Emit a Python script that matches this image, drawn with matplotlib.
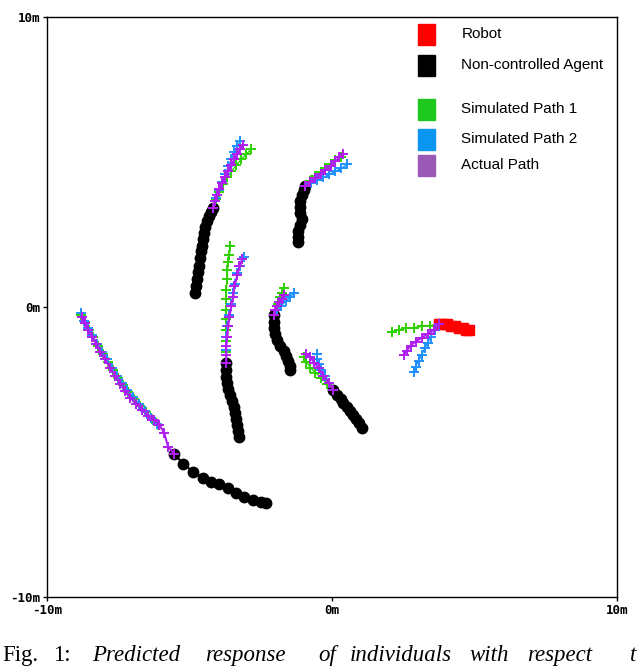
import matplotlib
matplotlib.use("Agg")
import matplotlib.pyplot as plt
from matplotlib.patches import Rectangle

# tracks of the non-controlled agents (metres), oldest point first
agent_a_x = [-4.80, -4.76, -4.73, -4.69, -4.66, -4.62, -4.59, -4.55, -4.52, -4.48, -4.45, -4.38, -4.31, -4.24, -4.17]
agent_a_y = [0.50, 0.71, 0.95, 1.19, 1.43, 1.68, 1.92, 2.12, 2.33, 2.54, 2.75, 2.95, 3.13, 3.26, 3.40]
agent_b_x = [-1.18, -1.21, -1.18, -1.11, -1.07, -1.11, -1.14, -1.11, -1.07, -1.00, -0.93]
agent_b_y = [2.24, 2.40, 2.61, 2.82, 3.02, 3.23, 3.44, 3.64, 3.85, 4.02, 4.16]
agent_c_x = [-3.25, -3.29, -3.32, -3.36, -3.39, -3.43, -3.50, -3.57, -3.64, -3.67, -3.71, -3.71, -3.71]
agent_c_y = [-4.47, -4.27, -4.06, -3.85, -3.64, -3.44, -3.23, -3.02, -2.82, -2.61, -2.40, -2.16, -1.92]
agent_d_x = [-1.46, -1.49, -1.53, -1.60, -1.70, -1.81, -1.92, -1.99, -2.02, -2.02, -2.02]
agent_d_y = [-2.16, -2.02, -1.85, -1.68, -1.50, -1.33, -1.13, -0.92, -0.71, -0.50, -0.29]
agent_e_x = [1.04, 0.93, 0.83, 0.72, 0.62, 0.51, 0.40, 0.30, 0.19, 0.05]
agent_e_y = [-4.16, -3.99, -3.85, -3.71, -3.58, -3.44, -3.30, -3.16, -3.02, -2.85]
agent_f_x = [-2.30, -2.48, -2.76, -3.08, -3.36, -3.64, -3.95, -4.24, -4.52, -4.87, -5.22, -5.54]
agent_f_y = [-6.75, -6.72, -6.65, -6.55, -6.40, -6.23, -6.10, -6.03, -5.89, -5.68, -5.41, -5.06]

robot_x = [4.80, 4.69, 4.59, 4.45, 4.31, 4.17, 4.02, 3.88, 3.74]
robot_y = [-0.81, -0.78, -0.74, -0.71, -0.67, -0.64, -0.60, -0.60, -0.57]

# simulated path 1 (green)
sim1_a_x = [-4.17, -4.06, -3.95, -3.81, -3.67, -3.53, -3.36, -3.18, -3.01, -2.83]
sim1_a_y = [3.40, 3.71, 3.96, 4.23, 4.47, 4.68, 4.89, 5.09, 5.27, 5.44]
sim1_b_x = [-0.93, -0.76, -0.58, -0.40, -0.23, -0.05, 0.12, 0.30]
sim1_b_y = [4.16, 4.34, 4.51, 4.65, 4.78, 4.92, 5.06, 5.16]
sim1_c_x = [-3.71, -3.71, -3.71, -3.71, -3.71, -3.71, -3.71, -3.71, -3.67, -3.67, -3.64, -3.60, -3.57]
sim1_c_y = [-1.92, -1.54, -1.16, -0.78, -0.43, -0.09, 0.26, 0.60, 0.95, 1.26, 1.54, 1.81, 2.12]
sim1_d_x = [-2.02, -1.95, -1.88, -1.81, -1.74, -1.70]
sim1_d_y = [-0.29, -0.09, 0.12, 0.33, 0.50, 0.67]
sim1_e_x = [0.05, -0.16, -0.37, -0.58, -0.76, -0.90, -0.97]
sim1_e_y = [-2.85, -2.64, -2.44, -2.26, -2.09, -1.88, -1.74]
sim1_f_x = [-6.10, -6.31, -6.52, -6.73, -6.94, -7.15, -7.33, -7.50, -7.68, -7.86, -8.03, -8.21, -8.38, -8.52, -8.66, -8.81]
sim1_f_y = [-4.06, -3.85, -3.61, -3.40, -3.16, -2.92, -2.68, -2.44, -2.16, -1.88, -1.61, -1.33, -1.05, -0.78, -0.50, -0.26]
sim1_r_x = [3.74, 3.43, 3.15, 2.86, 2.58, 2.34, 2.09]
sim1_r_y = [-0.60, -0.64, -0.67, -0.71, -0.74, -0.78, -0.85]

# simulated path 2 (blue)
sim2_a_x = [-4.17, -4.06, -3.95, -3.85, -3.74, -3.64, -3.53, -3.43, -3.32, -3.22]
sim2_a_y = [3.40, 3.75, 4.02, 4.30, 4.58, 4.85, 5.09, 5.34, 5.54, 5.72]
sim2_b_x = [-0.93, -0.72, -0.51, -0.30, -0.09, 0.12, 0.33, 0.54]
sim2_b_y = [4.16, 4.27, 4.37, 4.47, 4.58, 4.68, 4.78, 4.92]
sim2_c_x = [-3.71, -3.71, -3.71, -3.67, -3.60, -3.53, -3.46, -3.39, -3.32, -3.22, -3.08]
sim2_c_y = [-1.92, -1.47, -1.02, -0.64, -0.29, 0.09, 0.47, 0.81, 1.16, 1.43, 1.71]
sim2_d_x = [-2.02, -1.92, -1.78, -1.63, -1.49, -1.35]
sim2_d_y = [-0.29, -0.12, 0.05, 0.19, 0.33, 0.47]
sim2_e_x = [0.05, -0.09, -0.23, -0.37, -0.44, -0.51, -0.54]
sim2_e_y = [-2.85, -2.61, -2.37, -2.16, -1.95, -1.78, -1.61]
sim2_f_x = [-6.13, -6.34, -6.55, -6.77, -6.98, -7.19, -7.36, -7.54, -7.71, -7.89, -8.07, -8.24, -8.42, -8.56, -8.70, -8.81]
sim2_f_y = [-4.02, -3.82, -3.58, -3.33, -3.09, -2.85, -2.61, -2.37, -2.09, -1.81, -1.54, -1.26, -0.98, -0.71, -0.47, -0.22]
sim2_r_x = [3.74, 3.60, 3.46, 3.36, 3.25, 3.15, 3.04, 2.93, 2.86]
sim2_r_y = [-0.60, -0.81, -1.02, -1.23, -1.43, -1.64, -1.85, -2.06, -2.23]

# actual path (purple)
act_a_x = [-4.17, -4.10, -4.02, -3.95, -3.85, -3.74, -3.64, -3.53, -3.43, -3.32, -3.22, -3.11]
act_a_y = [3.40, 3.64, 3.85, 4.06, 4.27, 4.47, 4.68, 4.89, 5.09, 5.27, 5.44, 5.58]
act_b_x = [-0.93, -0.76, -0.58, -0.40, -0.23, -0.05, 0.12, 0.26, 0.40]
act_b_y = [4.16, 4.30, 4.44, 4.58, 4.72, 4.85, 5.03, 5.16, 5.27]
act_c_x = [-3.71, -3.71, -3.71, -3.67, -3.64, -3.60, -3.53, -3.46, -3.43, -3.32, -3.25, -3.15]
act_c_y = [-1.92, -1.64, -1.33, -1.02, -0.67, -0.33, 0.02, 0.36, 0.71, 1.09, 1.40, 1.64]
act_d_x = [-2.02, -1.99, -1.92, -1.85, -1.74, -1.67]
act_d_y = [-0.29, -0.12, 0.02, 0.16, 0.29, 0.40]
act_e_x = [0.05, -0.12, -0.30, -0.47, -0.62, -0.76, -0.90]
act_e_y = [-2.85, -2.61, -2.37, -2.12, -1.92, -1.74, -1.61]
act_f_x = [-5.54, -5.75, -5.89, -6.06, -6.24, -6.45, -6.66, -6.87, -7.08, -7.26, -7.43, -7.61, -7.79, -7.96, -8.14, -8.28, -8.42, -8.56, -8.66, -8.77]
act_f_y = [-5.06, -4.82, -4.34, -4.06, -3.89, -3.75, -3.54, -3.33, -3.13, -2.88, -2.64, -2.37, -2.09, -1.81, -1.54, -1.26, -1.02, -0.78, -0.54, -0.33]
act_r_x = [3.74, 3.57, 3.36, 3.15, 2.93, 2.76, 2.62, 2.51]
act_r_y = [-0.60, -0.78, -0.92, -1.06, -1.19, -1.33, -1.50, -1.64]

legend_labels = ["Robot", "Non-controlled Agent", "Simulated Path 1", "Simulated Path 2", "Actual Path"]
legend_colors = ["#ff0000", "#000000", "#1ec81e", "#0a96f0", "#9b59b6"]

caption_words = ["Fig.", "1:", "Predicted", "response", "of", "individuals", "with", "respect", "t"]

green = "#2ed000"
blue = "#1e90ff"
purple = "#b01ef0"

fig = plt.figure(figsize=(6.4, 6.67), dpi=100)
ax = fig.add_axes([47 / 640, 1 - 597 / 667, 570 / 640, 580 / 667])

agents = [(agent_a_x, agent_a_y), (agent_b_x, agent_b_y), (agent_c_x, agent_c_y),
          (agent_d_x, agent_d_y), (agent_e_x, agent_e_y), (agent_f_x, agent_f_y)]
for xs, ys in agents:
    ax.plot(xs, ys, color="black", lw=1.5, marker="o", ms=7.5, zorder=2)

ax.plot(robot_x, robot_y, color="#ff0000", lw=7, marker="s", ms=7, zorder=2, solid_capstyle="round")

for xs, ys in [(sim1_a_x, sim1_a_y), (sim1_b_x, sim1_b_y), (sim1_c_x, sim1_c_y), (sim1_d_x, sim1_d_y),
               (sim1_e_x, sim1_e_y), (sim1_f_x, sim1_f_y), (sim1_r_x, sim1_r_y)]:
    ax.plot(xs, ys, color=green, lw=1, marker="+", ms=7.5, mew=1.4, zorder=3)
for xs, ys in [(sim2_a_x, sim2_a_y), (sim2_b_x, sim2_b_y), (sim2_c_x, sim2_c_y), (sim2_d_x, sim2_d_y),
               (sim2_e_x, sim2_e_y), (sim2_f_x, sim2_f_y), (sim2_r_x, sim2_r_y)]:
    ax.plot(xs, ys, color=blue, lw=1, marker="+", ms=7.5, mew=1.4, zorder=4)
for xs, ys in [(act_a_x, act_a_y), (act_b_x, act_b_y), (act_c_x, act_c_y), (act_d_x, act_d_y),
               (act_e_x, act_e_y), (act_f_x, act_f_y), (act_r_x, act_r_y)]:
    ax.plot(xs, ys, color=purple, lw=1.5, marker="+", ms=7.5, mew=1.4, zorder=5)

ax.set_xlim(-10, 10)
ax.set_ylim(-10, 10)
ax.set_xticks([-10, 0, 10])
ax.set_yticks([-10, 0, 10])
ax.set_xticklabels(["-10m", "0m", "10m"])
ax.set_yticklabels(["-10m", "0m", "10m"])
ax.tick_params(length=3, width=1, pad=2, labelsize=9)
for lab in ax.get_xticklabels() + ax.get_yticklabels():
    lab.set_family("DejaVu Sans Mono")
    lab.set_weight("bold")
for sp in ax.spines.values():
    sp.set_linewidth(1)

# hand-made legend
row_centers = [0.970, 0.917, 0.841, 0.789, 0.744]
for lab, col, yc in zip(legend_labels, legend_colors, row_centers):
    ax.add_patch(Rectangle((0.650, yc - 0.018), 0.031, 0.036, transform=ax.transAxes,
                           color=col, zorder=6))
    ax.text(0.727, yc, lab, transform=ax.transAxes, va="center", ha="left",
            fontsize=11, family="Liberation Sans", zorder=6)

# caption along the bottom edge
caption_x = [2, 53, 92, 205, 318, 350, 469, 527, 630]
for word, px in zip(caption_words, caption_x):
    style = "normal" if word in ("Fig.", "1:") else "italic"
    fig.text(px / 640, 0.009, word, fontsize=16.5, family="Liberation Serif",
             style=style, va="baseline", ha="left")

fig.savefig("out.png", dpi=100)
